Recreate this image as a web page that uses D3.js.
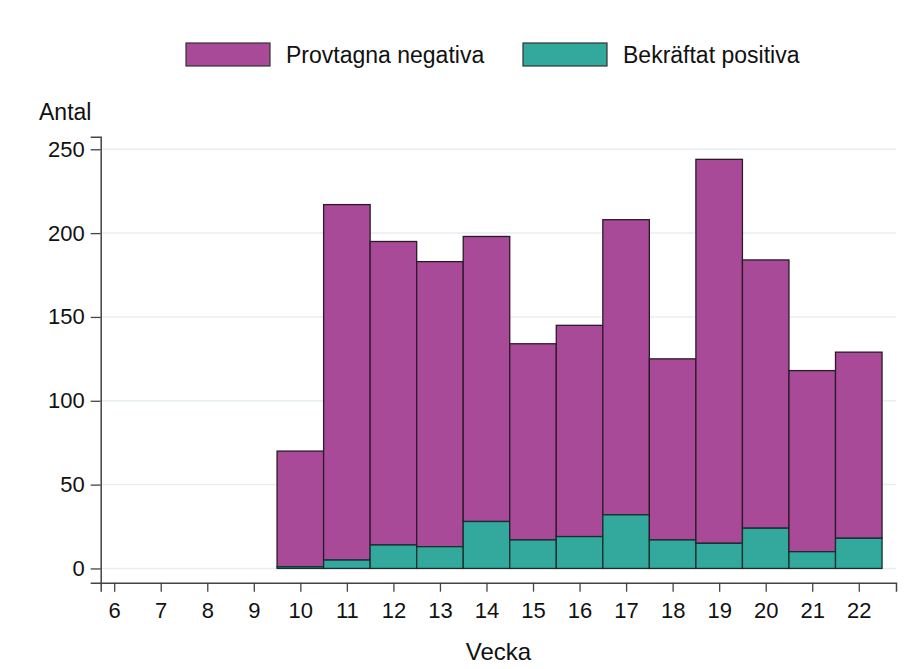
<!DOCTYPE html>
<html>
<head>
<meta charset="utf-8">
<script src="https://cdn.jsdelivr.net/npm/d3@7"></script>
<style>
  body { margin: 0; background: #fff; }
  svg text { font-family: "Liberation Sans", Arial, sans-serif; fill: #111; }
</style>
</head>
<body>
<div id="content"></div>
<script>
// data
var weeks = [10, 11, 12, 13, 14, 15, 16, 17, 18, 19, 20, 21, 22];
var positiva = [1, 5, 14, 13, 28, 17, 19, 32, 17, 15, 24, 10, 18];
var negativa = [69, 212, 181, 170, 170, 117, 126, 176, 108, 229, 160, 108, 111];
var xTicks = [6, 7, 8, 9, 10, 11, 12, 13, 14, 15, 16, 17, 18, 19, 20, 21, 22];
var yTicks = [0, 50, 100, 150, 200, 250];
var seriesNames = ["Provtagna negativa", "Bekräftat positiva"];
var colors = ["#a84a98", "#33a89c"];

var width = 905, height = 669;

var svg = d3.select("#content").append("svg")
  .attr("width", width)
  .attr("height", height);

// scales
var x = d3.scaleLinear().domain([5.71, 22.8]).range([100.7, 896]);
var y = d3.scaleLinear().domain([-8.5, 257.5]).range([582.7, 136.7]);
var step = x(7) - x(6);

// gridlines
svg.append("g")
  .selectAll("line")
  .data(yTicks)
  .enter().append("line")
  .attr("x1", 100.7)
  .attr("x2", 896)
  .attr("y1", function(d) { return y(d); })
  .attr("y2", function(d) { return y(d); })
  .attr("stroke", "#e6eef2")
  .attr("stroke-width", 1.5);

// stacked bars
var rows = weeks.map(function(w, i) {
  return { week: w, pos: positiva[i], neg: negativa[i] };
});

var bars = svg.append("g").selectAll("g")
  .data(rows)
  .enter().append("g");

bars.append("rect")
  .attr("x", function(d) { return x(d.week) - step / 2; })
  .attr("width", step)
  .attr("y", function(d) { return y(d.pos + d.neg); })
  .attr("height", function(d) { return y(d.pos) - y(d.pos + d.neg); })
  .attr("fill", colors[0])
  .attr("stroke", "#2a1a28")
  .attr("stroke-width", 1.3);

bars.append("rect")
  .attr("x", function(d) { return x(d.week) - step / 2; })
  .attr("width", step)
  .attr("y", function(d) { return y(d.pos); })
  .attr("height", function(d) { return y(0) - y(d.pos); })
  .attr("fill", colors[1])
  .attr("stroke", "#14302c")
  .attr("stroke-width", 1.3);

// x axis
var xAxis = svg.append("g")
  .attr("transform", "translate(0," + y.range()[0] + ")")
  .call(d3.axisBottom(x).tickValues(xTicks).tickSizeOuter(0).tickSize(9).tickPadding(11));
xAxis.select(".domain").attr("stroke", "#444").attr("stroke-width", 1.5);
xAxis.selectAll(".tick line").attr("stroke", "#444").attr("stroke-width", 1.3);
xAxis.selectAll("text").attr("font-size", 22).attr("fill", "#111")
  .attr("font-family", "Liberation Sans, Arial, sans-serif");

// y axis
var yAxis = svg.append("g")
  .attr("transform", "translate(" + x.range()[0] + ",0)")
  .call(d3.axisLeft(y).tickValues(yTicks).tickSizeOuter(0).tickSize(10).tickPadding(6));
yAxis.select(".domain").attr("stroke", "#444").attr("stroke-width", 1.5);
yAxis.selectAll(".tick line").attr("stroke", "#444").attr("stroke-width", 1.3);
yAxis.selectAll("text").attr("font-size", 22).attr("fill", "#111")
  .attr("font-family", "Liberation Sans, Arial, sans-serif");

// axis titles
svg.append("text")
  .attr("x", 39)
  .attr("y", 120)
  .attr("font-size", 23)
  .text("Antal");

svg.append("text")
  .attr("x", 498.5)
  .attr("y", 660)
  .attr("text-anchor", "middle")
  .attr("font-size", 24)
  .text("Vecka");

// legend
var legendX = [186, 523];
var legend = svg.append("g").selectAll("g")
  .data(seriesNames)
  .enter().append("g")
  .attr("transform", function(d, i) { return "translate(" + legendX[i] + ",43)"; });

legend.append("rect")
  .attr("width", 84)
  .attr("height", 23)
  .attr("fill", function(d, i) { return colors[i]; })
  .attr("stroke", "#333")
  .attr("stroke-width", 1.2);

legend.append("text")
  .attr("x", 100)
  .attr("y", 20)
  .attr("font-size", 23)
  .text(function(d) { return d; });
</script>
</body>
</html>
